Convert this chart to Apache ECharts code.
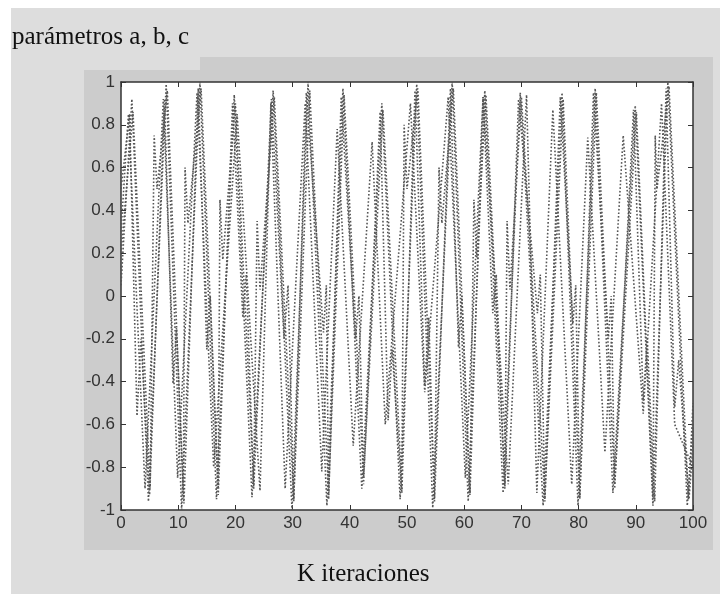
<!DOCTYPE html>
<html>
<head>
<meta charset="utf-8">
<script src="https://cdn.jsdelivr.net/npm/echarts@6/dist/echarts.min.js"></script>
<style>
  html, body { margin: 0; padding: 0; background: #ffffff; }
  #chart { width: 720px; height: 594px; }
</style>
</head>
<body>
<div id="chart"></div>
<script>
// parameter trajectories at their turning points
const aK = [0, 1.9, 4.8, 7.9, 10.6, 13.8, 16.7, 19.8, 22.9, 26.6, 29.9, 32.7, 36.0, 38.8, 42.1, 45.6, 48.8, 51.7, 54.5, 57.9, 60.7, 63.6, 66.8, 69.8, 73.8, 77.1, 79.9, 82.9, 86.0, 89.9, 93.0, 95.6, 99.0, 100];
const aV = [0.05, 0.92, -0.96, 0.99, -1.0, 1.0, -0.95, 0.94, -0.94, 0.96, -1.0, 1.0, -0.98, 0.97, -0.9, 0.9, -0.95, 0.99, -0.99, 1.0, -0.96, 0.96, -0.92, 0.95, -0.98, 0.95, -0.98, 0.97, -0.92, 0.89, -0.98, 1.0, -0.98, -0.6];

const bK = [0, 1.3, 4.2, 7.4, 9.9, 13.3, 16.2, 20.3, 24.3, 26.2, 28.7, 32.2, 35.1, 37.8, 40.6, 43.9, 46.2, 50.6, 53.1, 57.2, 60.2, 63.3, 67.7, 70.9, 72.7, 75.5, 78.8, 81.6, 84.6, 87.8, 91.3, 94.5, 96.8, 100];
const bV = [0.3, 0.85, -0.9, 0.92, -0.85, 0.95, -0.8, 0.85, -0.91, 0.9, -0.9, 0.9, -0.82, 0.78, -0.7, 0.72, -0.6, 0.9, -0.45, 0.93, -0.85, 0.93, -0.88, 0.94, -0.92, 0.87, -0.88, 0.74, -0.73, 0.75, -0.55, 0.9, -0.6, -0.8];

const cK = [0, 1.5, 2.8, 3.5, 5.0, 7.6, 9.1, 9.7, 11.0, 13.5, 15.0, 15.6, 17.0, 19.5, 21.3, 21.9, 23.2, 26.3, 28.5, 29.2, 30.2, 32.4, 35.4, 35.9, 36.3, 38.5, 41.0, 41.6, 42.4, 45.3, 46.7, 47.4, 49.1, 51.4, 53.1, 53.8, 54.8, 57.6, 59.0, 59.6, 61.0, 63.3, 65.0, 65.6, 67.1, 69.5, 72.8, 73.3, 74.1, 76.8, 79.0, 79.5, 80.2, 82.6, 85.2, 85.7, 86.3, 89.6, 91.3, 92.0, 93.3, 95.3, 96.8, 97.5, 99.3, 100];
const cV = [0.5, 0.85, -0.56, -0.2, -0.93, 0.92, -0.41, -0.15, -0.97, 0.97, -0.25, 0.0, -0.93, 0.9, -0.1, 0.1, -0.9, 0.92, -0.2, 0.05, -0.96, 0.95, -0.17, 0.05, -0.95, 0.93, -0.2, 0.0, -0.88, 0.86, -0.58, -0.25, -0.92, 0.96, -0.42, -0.1, -0.96, 0.97, -0.24, 0.0, -0.93, 0.93, -0.08, 0.1, -0.9, 0.92, -0.08, 0.1, -0.96, 0.93, -0.13, 0.05, -0.95, 0.95, -0.2, 0.0, -0.9, 0.87, -0.49, -0.2, -0.96, 0.97, -0.52, -0.3, -0.95, -0.7];

const dK = [0, 2.1, 5.1, 5.8, 6.3, 8.1, 10.9, 11.2, 11.7, 14.0, 17.0, 17.3, 17.8, 20.0, 23.2, 23.8, 24.3, 26.8, 30.2, 33.0, 36.3, 39.0, 42.4, 45.8, 49.1, 49.5, 50.0, 51.9, 54.8, 55.6, 56.1, 58.1, 61.0, 61.7, 62.2, 63.8, 67.1, 67.5, 68.0, 70.0, 74.1, 77.3, 80.2, 83.1, 86.3, 90.1, 93.0, 93.4, 93.7, 95.8, 99.2, 100];
const dV = [0.2, 0.86, -0.9, 0.75, 0.5, 0.96, -0.95, 0.6, 0.34, 0.97, -0.9, 0.45, 0.17, 0.9, -0.88, 0.35, 0.03, 0.93, -0.95, 0.96, -0.92, 0.94, -0.85, 0.87, -0.9, 0.8, 0.5, 0.97, -0.94, 0.6, 0.34, 0.97, -0.92, 0.45, 0.18, 0.94, -0.88, 0.35, 0.03, 0.93, -0.94, 0.92, -0.94, 0.95, -0.88, 0.86, -0.94, 0.75, 0.5, 0.98, -0.95, -0.5];

const xTicks = [0, 10, 20, 30, 40, 50, 60, 70, 80, 90, 100];
const yTicks = [-1, -0.8, -0.6, -0.4, -0.2, 0, 0.2, 0.4, 0.6, 0.8, 1];

const pairs = (ks, vs) => ks.map((k, i) => [k, vs[i]]);

const chart = echarts.init(document.getElementById('chart'));
const serif = '"Liberation Serif", "Times New Roman", serif';
const sans = '"Liberation Sans", Arial, sans-serif';
const ink = '#333333';

const lineSeries = (name, ks, vs) => ({
  name: name,
  type: 'line',
  data: pairs(ks, vs),
  symbol: 'none',
  silent: true,
  lineStyle: { color: '#555555', width: 1.6, type: [1.6, 2] }
});

const frameAxis = pos => ({
  type: 'value',
  position: pos,
  axisLine: { onZero: false, lineStyle: { color: ink, width: 1.5 } },
  axisTick: { inside: true, length: 5, lineStyle: { color: ink } },
  axisLabel: { show: false },
  splitLine: { show: false }
});

chart.setOption({
  backgroundColor: '#ffffff',
  animation: false,
  graphic: [
    { type: 'rect', z: -10, shape: { x: 11, y: 8, width: 709, height: 586 }, style: { fill: '#dddddd' } },
    { type: 'rect', z: -9, shape: { x: 84, y: 57, width: 629, height: 493 }, style: { fill: '#cccccc' } },
    { type: 'rect', z: -8, shape: { x: 84, y: 57, width: 116, height: 13 }, style: { fill: '#dddddd' } },
    { type: 'rect', z: -7, shape: { x: 121, y: 82, width: 572, height: 428 }, style: { fill: '#ffffff' } },
    { type: 'text', left: 12, top: 25, style: { text: 'parámetros a, b, c', font: '25px ' + serif, fill: '#111111' } },
    { type: 'text', left: 297, top: 562, style: { text: 'K iteraciones', font: '25px ' + serif, fill: '#111111' } }
  ],
  grid: { left: 121, top: 82, width: 572, height: 428 },
  xAxis: [
    Object.assign(frameAxis('bottom'), {
      min: 0, max: 100, interval: 10,
      axisLabel: { color: ink, fontFamily: sans, fontSize: 17, margin: 5,
        formatter: v => xTicks.indexOf(v) >= 0 ? String(v) : '' }
    }),
    Object.assign(frameAxis('top'), { min: 0, max: 100, interval: 10 })
  ],
  yAxis: [
    Object.assign(frameAxis('left'), {
      min: -1, max: 1, interval: 0.2,
      axisLabel: { color: ink, fontFamily: sans, fontSize: 17, margin: 6,
        formatter: v => {
          const r = Math.round(v * 10) / 10;
          return yTicks.indexOf(r) >= 0 ? String(r) : '';
        } }
    }),
    Object.assign(frameAxis('right'), { min: -1, max: 1, interval: 0.2 })
  ],
  series: [
    lineSeries('a', aK, aV),
    lineSeries('b', bK, bV),
    lineSeries('c', cK, cV),
    lineSeries('d', dK, dV)
  ]
});
</script>
</body>
</html>
